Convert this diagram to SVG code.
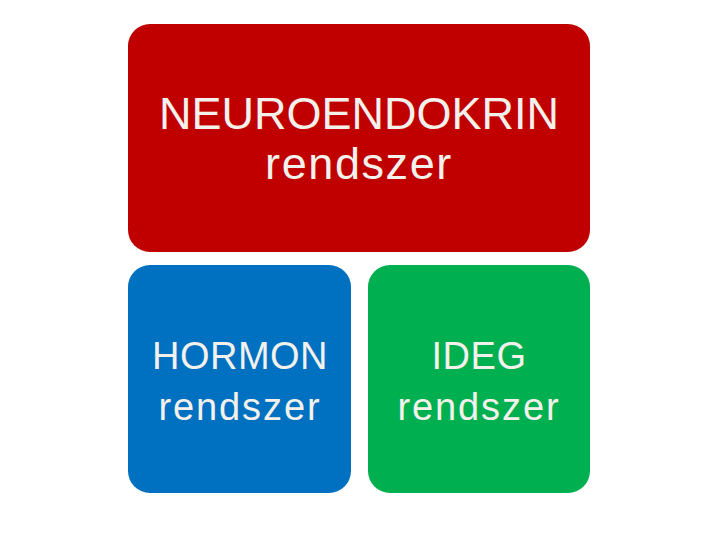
<svg xmlns="http://www.w3.org/2000/svg" width="720" height="540" viewBox="0 0 720 540">
<style>
text{font-family:"Liberation Sans",Arial,sans-serif;fill:#F4F1EC;text-anchor:middle}
.big{font-size:45px}
.sm{font-size:38px}
</style>
<rect width="720" height="540" fill="#FFFFFF"/>
<g id="neuroendokrin">
<rect x="128" y="24" width="462" height="228" rx="22" fill="#C00000"/>
<text class="big" x="359" y="129">NEUROENDOKRIN</text>
<text class="big" x="359" y="179" letter-spacing="1.6">rendszer</text>
</g>
<g id="hormon">
<rect x="128" y="265" width="223" height="228" rx="22" fill="#0070C0"/>
<text class="sm" x="240" y="369" letter-spacing="0.5">HORMON</text>
<text class="sm" x="240" y="420" letter-spacing="1.9">rendszer</text>
</g>
<g id="ideg">
<rect x="368" y="265" width="222" height="228" rx="22" fill="#00B050"/>
<text class="sm" x="479" y="369" letter-spacing="0.5">IDEG</text>
<text class="sm" x="479" y="420" letter-spacing="1.9">rendszer</text>
</g>
<g id="connectors"/>
</svg>
